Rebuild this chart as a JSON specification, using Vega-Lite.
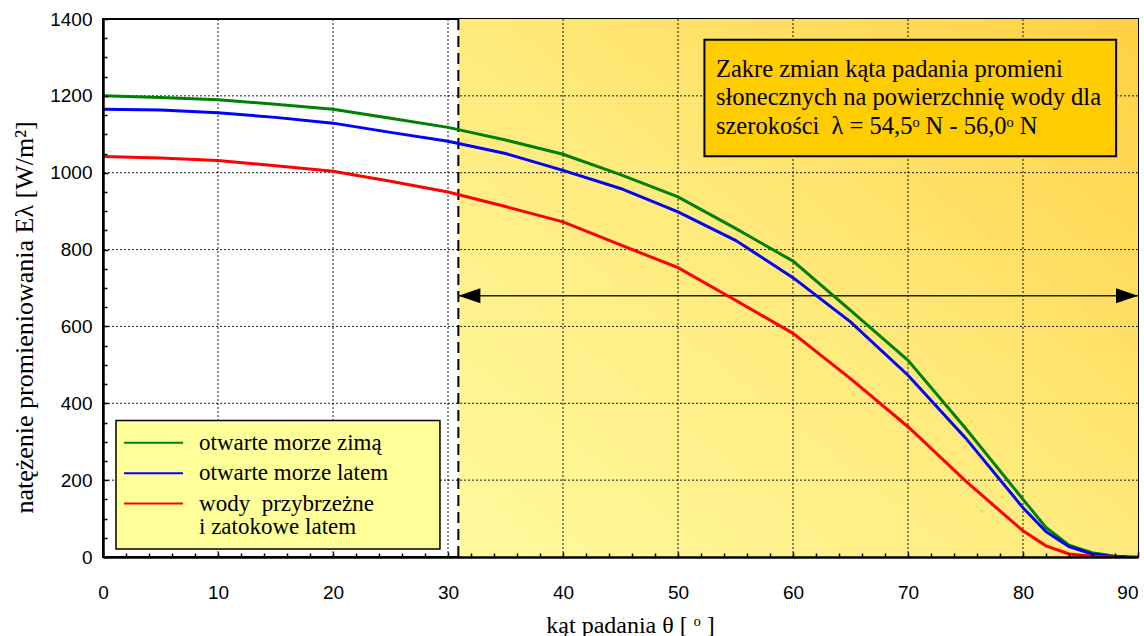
{
  "$schema": "https://vega.github.io/schema/vega-lite/v6.json",
  "width": 1035,
  "height": 538,
  "autosize": "none",
  "padding": {"left": 103, "top": 19, "right": 6, "bottom": 79},
  "background": "white",
  "config": {
    "view": {"stroke": "black", "strokeWidth": 2},
    "axis": {
      "labelFont": "Liberation Sans",
      "labelFontSize": 19,
      "labelColor": "black",
      "labelFlush": false,
      "titleFont": "Liberation Serif",
      "titleFontWeight": "normal",
      "titleColor": "black",
      "domainColor": "black",
      "tickColor": "black",
      "grid": false
    }
  },
  "resolve": {"axis": {"x": "independent", "y": "independent"}},
  "datasets": {
    "curves": [
      {"s": "zima", "x": 0, "y": 1200}, {"s": "zima", "x": 5, "y": 1196}, {"s": "zima", "x": 10, "y": 1190}, {"s": "zima", "x": 15, "y": 1178}, {"s": "zima", "x": 20, "y": 1165}, {"s": "zima", "x": 25, "y": 1142}, {"s": "zima", "x": 30, "y": 1118}, {"s": "zima", "x": 35, "y": 1085}, {"s": "zima", "x": 40, "y": 1048}, {"s": "zima", "x": 45, "y": 995}, {"s": "zima", "x": 50, "y": 937}, {"s": "zima", "x": 55, "y": 855}, {"s": "zima", "x": 60, "y": 770}, {"s": "zima", "x": 65, "y": 642}, {"s": "zima", "x": 70, "y": 512}, {"s": "zima", "x": 75, "y": 335}, {"s": "zima", "x": 80, "y": 150}, {"s": "zima", "x": 82, "y": 77}, {"s": "zima", "x": 84, "y": 31}, {"s": "zima", "x": 86, "y": 11}, {"s": "zima", "x": 88, "y": 2}, {"s": "zima", "x": 90, "y": 0},
      {"s": "lato", "x": 0, "y": 1165}, {"s": "lato", "x": 5, "y": 1163}, {"s": "lato", "x": 10, "y": 1156}, {"s": "lato", "x": 15, "y": 1144}, {"s": "lato", "x": 20, "y": 1129}, {"s": "lato", "x": 25, "y": 1105}, {"s": "lato", "x": 30, "y": 1082}, {"s": "lato", "x": 35, "y": 1050}, {"s": "lato", "x": 40, "y": 1006}, {"s": "lato", "x": 45, "y": 959}, {"s": "lato", "x": 50, "y": 898}, {"s": "lato", "x": 55, "y": 824}, {"s": "lato", "x": 60, "y": 727}, {"s": "lato", "x": 65, "y": 612}, {"s": "lato", "x": 70, "y": 473}, {"s": "lato", "x": 75, "y": 310}, {"s": "lato", "x": 80, "y": 128}, {"s": "lato", "x": 82, "y": 66}, {"s": "lato", "x": 84, "y": 27}, {"s": "lato", "x": 86, "y": 8}, {"s": "lato", "x": 88, "y": 1}, {"s": "lato", "x": 89, "y": 0},
      {"s": "brzeg", "x": 0, "y": 1042}, {"s": "brzeg", "x": 5, "y": 1038}, {"s": "brzeg", "x": 10, "y": 1032}, {"s": "brzeg", "x": 15, "y": 1018}, {"s": "brzeg", "x": 20, "y": 1004}, {"s": "brzeg", "x": 25, "y": 978}, {"s": "brzeg", "x": 30, "y": 950}, {"s": "brzeg", "x": 35, "y": 912}, {"s": "brzeg", "x": 40, "y": 872}, {"s": "brzeg", "x": 45, "y": 812}, {"s": "brzeg", "x": 50, "y": 753}, {"s": "brzeg", "x": 55, "y": 668}, {"s": "brzeg", "x": 60, "y": 582}, {"s": "brzeg", "x": 65, "y": 464}, {"s": "brzeg", "x": 70, "y": 339}, {"s": "brzeg", "x": 75, "y": 198}, {"s": "brzeg", "x": 80, "y": 68}, {"s": "brzeg", "x": 82, "y": 29}, {"s": "brzeg", "x": 84, "y": 8}, {"s": "brzeg", "x": 86, "y": 2}, {"s": "brzeg", "x": 88, "y": 0}
    ],
    "zone": [{"x": 30.9, "x2": 90, "y": 0, "y2": 1400}],
    "xgrid": [{"x": 10}, {"x": 20}, {"x": 30}, {"x": 40}, {"x": 50}, {"x": 60}, {"x": 70}, {"x": 80}],
    "ygrid": [{"y": 200}, {"y": 400}, {"y": 600}, {"y": 800}, {"y": 1000}, {"y": 1200}],
    "dashed": [{"x": 30.9}],
    "arrow": [{"x": 30.9, "x2": 90, "y": 680}],
    "heads": [{"x": 30.9, "y": 680, "d": "L"}, {"x": 90, "y": 680, "d": "R"}],
    "legbox": [{"x": 1.13, "x2": 29.3, "y": 21, "y2": 355}],
    "legline": [{"s": "zima", "x": 1.83, "x2": 6.96, "y": 297}, {"s": "lato", "x": 1.83, "x2": 6.96, "y": 218}, {"s": "brzeg", "x": 1.83, "x2": 6.96, "y": 139}],
    "legtext": [{"x": 8.35, "y": 297, "t": "otwarte morze zimą"}, {"x": 8.35, "y": 218, "t": "otwarte morze latem"}, {"x": 8.35, "y": 139, "t": "wody\u00a0\u00a0przybrzeżne"}, {"x": 8.35, "y": 79, "t": "i zatokowe latem"}],
    "notebox": [{"x": 52.3, "x2": 88.1, "y": 1043, "y2": 1346}],
    "notetext": [{"x": 53.3, "y": 1266, "t": "Zakre zmian kąta padania promieni"}, {"x": 53.3, "y": 1194, "t": "słonecznych na powierzchnię wody dla"}, {"x": 53.3, "y": 1119, "t": "szerokości\u00a0\u00a0λ = 54,5ᵒ N - 56,0ᵒ N"}]
  },
  "layer": [
    {
      "data": {"name": "zone"},
      "mark": {"type": "rect", "fill": {"gradient": "linear", "x1": 0, "y1": 1, "x2": 1, "y2": 0, "stops": [{"offset": 0, "color": "#FFFA9E"}, {"offset": 0.5, "color": "#FFEA7C"}, {"offset": 1, "color": "#FFD042"}]}},
      "encoding": {
        "x": {
          "field": "x", "type": "quantitative", "scale": {"domain": [0, 90], "nice": false, "zero": false},
          "axis": {"orient": "bottom", "values": [0, 10, 20, 30, 40, 50, 60, 70, 80, 90], "format": "d", "tickSize": -5, "tickWidth": 1.5, "labelPadding": 31, "domainWidth": 2.5, "zindex": 1,
            "labelAlign": {"condition": {"test": "datum.value >= 90", "value": "right"}, "value": "center"},
            "title": "kąt padania θ [ ᵒ ]", "titleFontSize": 24, "titleX": 527, "titleY": 68, "titleBaseline": "middle", "titleAnchor": "start", "titleAlign": "center"}
        },
        "x2": {"field": "x2"},
        "y": {
          "field": "y", "type": "quantitative", "scale": {"domain": [0, 1400], "nice": false},
          "axis": {"orient": "left", "values": [0, 200, 400, 600, 800, 1000, 1200, 1400], "format": "d", "tickSize": -5, "tickWidth": 1.5, "labelPadding": 16, "domainWidth": 2.5, "zindex": 1,
            "title": "natężenie promieniowania   Eλ [W/m²]", "titleFontSize": 26, "titleAngle": -90, "titleX": -79, "titleY": 298, "titleBaseline": "middle", "titleAlign": "center", "titleAnchor": "start"}
        },
        "y2": {"field": "y2"}
      }
    },
    {
      "data": {"name": "zone"},
      "mark": {"type": "rect", "opacity": 0},
      "encoding": {
        "x": {"field": "x", "type": "quantitative",
          "axis": {"orient": "bottom", "values": [2, 4, 6, 8, 12, 14, 16, 18, 22, 24, 26, 28, 32, 34, 36, 38, 42, 44, 46, 48, 52, 54, 56, 58, 62, 64, 66, 68, 72, 74, 76, 78, 82, 84, 86, 88], "labels": false, "domain": false, "tickSize": -4, "tickWidth": 1.5, "title": null, "zindex": 1}},
        "x2": {"field": "x2"},
        "y": {"field": "y", "type": "quantitative",
          "axis": {"orient": "left", "values": [50, 100, 150, 250, 300, 350, 450, 500, 550, 650, 700, 750, 850, 900, 950, 1050, 1100, 1150, 1250, 1300, 1350], "labels": false, "domain": false, "tickSize": -4, "tickWidth": 1.5, "title": null, "zindex": 1}},
        "y2": {"field": "y2"}
      }
    },
    {
      "data": {"name": "xgrid"},
      "mark": {"type": "rule", "color": "black", "strokeWidth": 1, "strokeDash": [2, 2], "opacity": 0.9},
      "encoding": {"x": {"field": "x", "type": "quantitative", "axis": null}}
    },
    {
      "data": {"name": "ygrid"},
      "mark": {"type": "rule", "color": "black", "strokeWidth": 1, "strokeDash": [2, 2], "opacity": 0.9},
      "encoding": {"y": {"field": "y", "type": "quantitative", "axis": null}}
    },
    {
      "data": {"name": "dashed"},
      "mark": {"type": "rule", "color": "black", "strokeWidth": 2, "strokeDash": [11, 6]},
      "encoding": {"x": {"field": "x", "type": "quantitative", "axis": null}}
    },
    {
      "data": {"name": "arrow"},
      "mark": {"type": "rule", "color": "#222222", "strokeWidth": 1.5},
      "encoding": {
        "x": {"field": "x", "type": "quantitative", "axis": null},
        "x2": {"field": "x2"},
        "y": {"field": "y", "type": "quantitative", "axis": null}
      }
    },
    {
      "data": {"name": "heads"},
      "mark": {"type": "point", "filled": true, "color": "black", "opacity": 1, "size": 484, "strokeWidth": 0},
      "encoding": {
        "x": {"field": "x", "type": "quantitative", "axis": null},
        "y": {"field": "y", "type": "quantitative", "axis": null},
        "shape": {"field": "d", "type": "nominal", "scale": {"domain": ["L", "R"], "range": ["M0,0L2,-0.68L2,0.68Z", "M0,0L-2,-0.68L-2,0.68Z"]}, "legend": null}
      }
    },
    {
      "data": {"name": "curves"},
      "mark": {"type": "line", "strokeWidth": 3, "clip": true},
      "encoding": {
        "x": {"field": "x", "type": "quantitative", "axis": null},
        "y": {"field": "y", "type": "quantitative", "axis": null},
        "color": {"field": "s", "type": "nominal", "scale": {"domain": ["zima", "lato", "brzeg"], "range": ["#008000", "#0000FF", "#FF0000"]}, "legend": null},
        "order": {"field": "x", "type": "quantitative"}
      }
    },
    {
      "data": {"name": "legbox"},
      "mark": {"type": "rect", "fill": "#FFFF99", "stroke": "black", "strokeWidth": 1.5},
      "encoding": {
        "x": {"field": "x", "type": "quantitative", "axis": null},
        "x2": {"field": "x2"},
        "y": {"field": "y", "type": "quantitative", "axis": null},
        "y2": {"field": "y2"}
      }
    },
    {
      "data": {"name": "legline"},
      "mark": {"type": "rule", "strokeWidth": 2},
      "encoding": {
        "x": {"field": "x", "type": "quantitative", "axis": null},
        "x2": {"field": "x2"},
        "y": {"field": "y", "type": "quantitative", "axis": null},
        "color": {"field": "s", "type": "nominal", "legend": null}
      }
    },
    {
      "data": {"name": "legtext"},
      "mark": {"type": "text", "align": "left", "baseline": "middle", "font": "Liberation Serif", "fontSize": 23, "color": "black"},
      "encoding": {
        "x": {"field": "x", "type": "quantitative", "axis": null},
        "y": {"field": "y", "type": "quantitative", "axis": null},
        "text": {"field": "t"}
      }
    },
    {
      "data": {"name": "notebox"},
      "mark": {"type": "rect", "fill": "#FFCC00", "stroke": "black", "strokeWidth": 2},
      "encoding": {
        "x": {"field": "x", "type": "quantitative", "axis": null},
        "x2": {"field": "x2"},
        "y": {"field": "y", "type": "quantitative", "axis": null},
        "y2": {"field": "y2"}
      }
    },
    {
      "data": {"name": "notetext"},
      "mark": {"type": "text", "align": "left", "baseline": "middle", "font": "Liberation Serif", "fontSize": 24.5, "color": "black"},
      "encoding": {
        "x": {"field": "x", "type": "quantitative", "axis": null},
        "y": {"field": "y", "type": "quantitative", "axis": null},
        "text": {"field": "t"}
      }
    }
  ]
}
